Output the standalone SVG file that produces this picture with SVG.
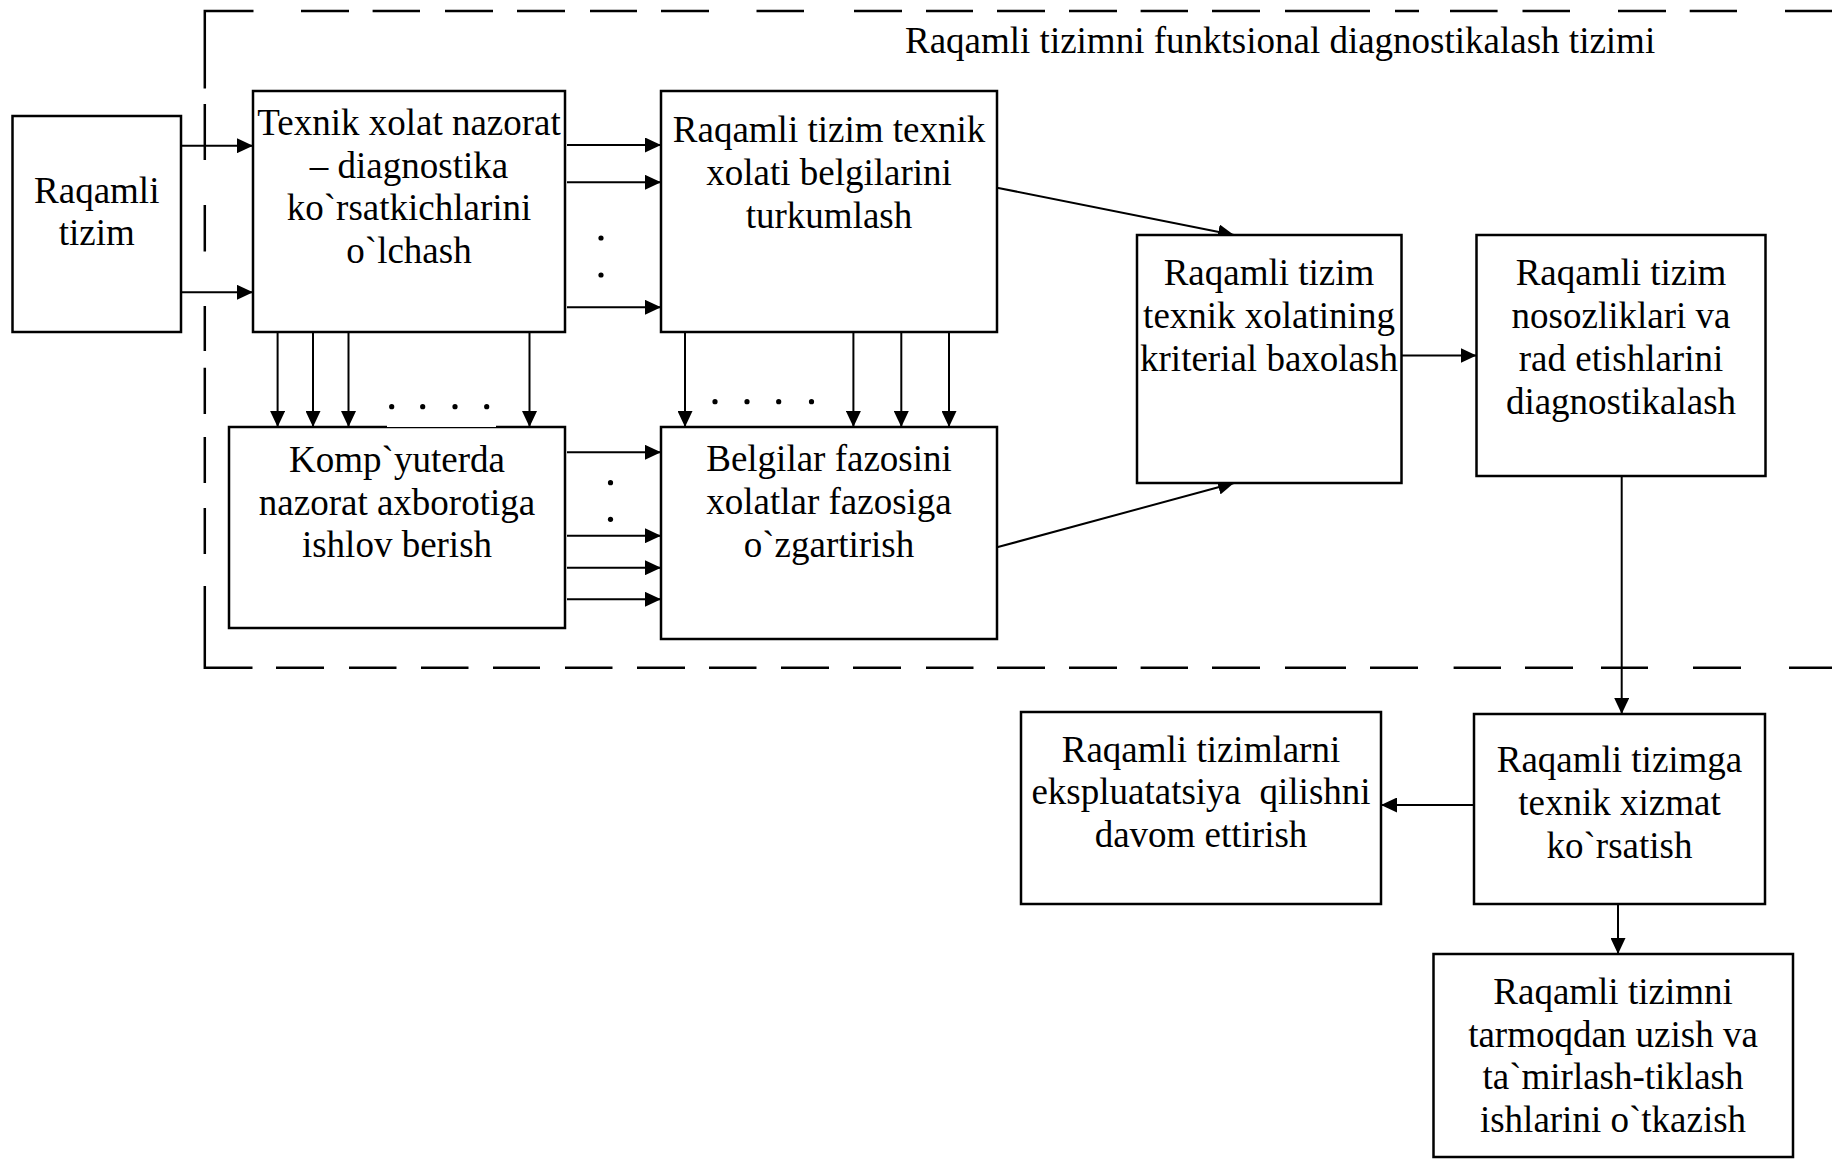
<svg xmlns="http://www.w3.org/2000/svg" width="1832" height="1160" viewBox="0 0 1832 1160">
  <style>
    .box { fill: #ffffff; stroke: #000000; stroke-width: 2.5; }
    .lbl { font-family: "Liberation Serif", "Times New Roman", serif; font-size: 37px; fill: #000000; text-anchor: middle; }
    .title { font-family: "Liberation Serif", "Times New Roman", serif; font-size: 37px; fill: #000000; }
    .frame { fill: none; stroke: #000000; stroke-width: 2.5; }
    .wire { fill: none; stroke: #000000; stroke-width: 2; }
    .arrow { fill: none; stroke: #000000; stroke-width: 2; marker-end: url(#head); }
    .dot { fill: #000000; }
  </style>
  <defs>
    <marker id="head" markerUnits="userSpaceOnUse" markerWidth="16" markerHeight="15" refX="16" refY="7.5" orient="auto">
      <path d="M0,0 L16,7.5 L0,15 Z" fill="#000000"/>
    </marker>
  </defs>

  <rect x="0" y="0" width="1832" height="1160" fill="#ffffff"/>

  <!-- dashed boundary of the diagnostics subsystem -->
  <g id="subsystem-frame">
    <path class="frame" d="M204.8,88.6 V11 H253.5
      M301,11 H349 M372.6,11 H420 M445,11 H493 M517,11 H565 M590,11 H637 M661,11 H709
      M756.5,11 H804 M854,11 H902 M926,11 H973 M997,11 H1045 M1069,11 H1117 M1140.6,11 H1188
      M1212,11 H1260 M1285,11 H1370 M1395,11 H1419 M1450,11 H1497.6 M1522.5,11 H1570
      M1618,11 H1666 M1689.7,11 H1737 M1785,11 H1832
      M204.8,104 V160 M204.8,205 V251.5 M204.8,306 V351 M204.8,367.7 V414
      M204.8,437 V483 M204.8,508 V554
      M204.8,586 V667.7 H252.5
      M276,667.7 H324 M349,667.7 H396.5 M421,667.7 H468.5 M493,667.7 H540 M565,667.7 H612.5
      M637,667.7 H685 M709,667.7 H756.5 M781,667.7 H829 M853,667.7 H901 M926,667.7 H973.5
      M997,667.7 H1045 M1069,667.7 H1117 M1140.6,667.7 H1188 M1212,667.7 H1260 M1285,667.7 H1346
      M1370,667.7 H1418 M1453.6,667.7 H1501 M1525,667.7 H1573 M1601,667.7 H1648
      M1693,667.7 H1741 M1789,667.7 H1832"/>
    <text class="title" x="905" y="53">Raqamli tizimni funktsional diagnostikalash tizimi</text>
  </g>

  <!-- connectors -->
  <g id="connectors">
    <!-- digital system to measurement -->
    <path class="arrow" d="M181,145.7 H253"/>
    <path class="arrow" d="M181,292.3 H253"/>
    <!-- measurement to grouping -->
    <path class="arrow" d="M567,145 H661"/>
    <path class="arrow" d="M567,182.3 H661"/>
    <path class="arrow" d="M567,307.3 H661"/>
    <!-- measurement down to computer processing -->
    <path class="arrow" d="M277.6,332 V427"/>
    <path class="arrow" d="M313,332 V427"/>
    <path class="arrow" d="M348.5,332 V427"/>
    <path class="arrow" d="M529.5,332 V427"/>
    <!-- grouping down to space transform -->
    <path class="arrow" d="M685,332 V427"/>
    <path class="arrow" d="M853.4,332 V427"/>
    <path class="arrow" d="M901.3,332 V427"/>
    <path class="arrow" d="M949,332 V427"/>
    <!-- computer processing to space transform -->
    <path class="arrow" d="M567,452.3 H661"/>
    <path class="arrow" d="M567,535.7 H661"/>
    <path class="arrow" d="M567,567.7 H661"/>
    <path class="arrow" d="M567,599.3 H661"/>
    <!-- into the criterial evaluation -->
    <path class="arrow" d="M997,187.7 L1234,235"/>
    <path class="arrow" d="M997,547.3 L1234,483"/>
    <!-- evaluation to fault diagnosis -->
    <path class="arrow" d="M1401.5,355.5 H1476.5"/>
    <!-- diagnosis to maintenance -->
    <path class="arrow" d="M1621.7,476 V714"/>
    <!-- maintenance outcomes -->
    <path class="arrow" d="M1474,805 H1381"/>
    <path class="arrow" d="M1618,904 V954"/>

    <!-- continuation dots between parallel channels -->
    <circle class="dot" cx="601" cy="238" r="2.6"/>
    <circle class="dot" cx="601" cy="275" r="2.6"/>
    <circle class="dot" cx="610.5" cy="482.7" r="2.6"/>
    <circle class="dot" cx="610.5" cy="519.3" r="2.6"/>
    <circle class="dot" cx="715" cy="401.7" r="2.6"/>
    <circle class="dot" cx="747" cy="401.7" r="2.6"/>
    <circle class="dot" cx="778.7" cy="401.7" r="2.6"/>
    <circle class="dot" cx="811.5" cy="401.7" r="2.6"/>
  </g>

  <g id="node-raqamli-tizim">
    <rect class="box" x="12.5" y="116" width="168.5" height="216"/>
    <text class="lbl" x="96.75" y="203">Raqamli</text>
    <text class="lbl" x="96.75" y="245">tizim</text>
  </g>

  <g id="node-olchash">
    <rect class="box" x="253" y="91" width="312" height="241"/>
    <text class="lbl" x="409" y="135">Texnik xolat nazorat</text>
    <text class="lbl" x="409" y="177.5">– diagnostika</text>
    <text class="lbl" x="409" y="220">ko`rsatkichlarini</text>
    <text class="lbl" x="409" y="263">o`lchash</text>
  </g>

  <g id="node-turkumlash">
    <rect class="box" x="661" y="91" width="336" height="241"/>
    <text class="lbl" x="829" y="141.7">Raqamli tizim texnik</text>
    <text class="lbl" x="829" y="185">xolati belgilarini</text>
    <text class="lbl" x="829" y="228">turkumlash</text>
  </g>

  <g id="node-ishlov-berish">
    <rect class="box" x="229" y="427" width="336" height="201"/>
    <!-- white backing behind the row of dots on the top edge -->
    <rect x="387" y="392" width="109" height="35" fill="#ffffff"/>
    <circle class="dot" cx="391.7" cy="406.7" r="2.6"/>
    <circle class="dot" cx="422.7" cy="406.7" r="2.6"/>
    <circle class="dot" cx="455" cy="406.7" r="2.6"/>
    <circle class="dot" cx="486.7" cy="406.7" r="2.6"/>
    <text class="lbl" x="397" y="471.7">Komp`yuterda</text>
    <text class="lbl" x="397" y="515">nazorat axborotiga</text>
    <text class="lbl" x="397" y="557">ishlov berish</text>
  </g>

  <g id="node-ozgartirish">
    <rect class="box" x="661" y="427" width="336" height="212"/>
    <text class="lbl" x="829" y="470.7">Belgilar fazosini</text>
    <text class="lbl" x="829" y="513.5">xolatlar fazosiga</text>
    <text class="lbl" x="829" y="556.7">o`zgartirish</text>
  </g>

  <g id="node-baxolash">
    <rect class="box" x="1137" y="235" width="264.5" height="248"/>
    <text class="lbl" x="1269" y="285">Raqamli tizim</text>
    <text class="lbl" x="1269" y="327.5">texnik xolatining</text>
    <text class="lbl" x="1269" y="371">kriterial baxolash</text>
  </g>

  <g id="node-diagnostikalash">
    <rect class="box" x="1476.5" y="235" width="289" height="241"/>
    <text class="lbl" x="1621" y="285">Raqamli tizim</text>
    <text class="lbl" x="1621" y="328">nosozliklari va</text>
    <text class="lbl" x="1621" y="371">rad etishlarini</text>
    <text class="lbl" x="1621" y="414">diagnostikalash</text>
  </g>

  <g id="node-xizmat">
    <rect class="box" x="1474" y="714" width="291" height="190"/>
    <text class="lbl" x="1619.5" y="771.7">Raqamli tizimga</text>
    <text class="lbl" x="1619.5" y="815">texnik xizmat</text>
    <text class="lbl" x="1619.5" y="858.3">ko`rsatish</text>
  </g>

  <g id="node-ekspluatatsiya">
    <rect class="box" x="1021" y="712" width="360" height="192"/>
    <text class="lbl" x="1201" y="761.7">Raqamli tizimlarni</text>
    <text class="lbl" x="1201" y="804">ekspluatatsiya&#160; qilishni</text>
    <text class="lbl" x="1201" y="846.7">davom ettirish</text>
  </g>

  <g id="node-tamirlash">
    <rect class="box" x="1433.5" y="954" width="359.5" height="203"/>
    <text class="lbl" x="1613" y="1004">Raqamli tizimni</text>
    <text class="lbl" x="1613" y="1046.7">tarmoqdan uzish va</text>
    <text class="lbl" x="1613" y="1089.3">ta`mirlash-tiklash</text>
    <text class="lbl" x="1613" y="1132.3">ishlarini o`tkazish</text>
  </g>
</svg>
